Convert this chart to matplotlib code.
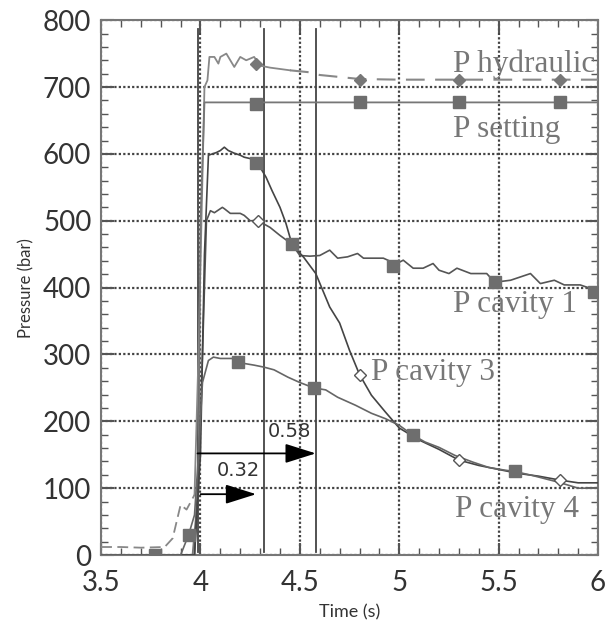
import numpy as np
import matplotlib.pyplot as plt
from matplotlib.ticker import MultipleLocator

# ---- data (time in s, pressure in bar) ----
hyd_t = [3.5, 3.6, 3.7, 3.82, 3.86, 3.9, 3.93, 3.97, 3.99, 4.02, 4.035, 4.045, 4.07, 4.09, 4.1,
         4.13, 4.17, 4.2, 4.23, 4.27, 4.3, 4.35, 4.4, 4.45, 4.55, 4.6, 4.7, 4.8, 5.0, 5.5, 6.0]
hyd_p = [12, 12, 11, 12, 25, 75, 68, 90, 300, 700, 710, 745, 745, 735, 745,
         750, 730, 745, 740, 745, 732, 729, 727, 725, 722, 718, 715, 712, 711, 711, 711]
hyd_mt = [4.28, 4.8, 5.3, 5.81]
hyd_mp = [735, 711, 711, 711]

set_t = [3.5, 3.96, 3.99, 4.0, 4.02, 6.0]
set_p = [0, 0, 100, 500, 677, 677]
set_mt = [3.77, 4.28, 4.8, 5.3, 5.81]
set_mp = [0, 675, 677, 677, 677]

# peak curve that drops steeply ("P cavity 3")
c3_t = [3.5, 3.97, 4.0, 4.02, 4.04, 4.06, 4.08, 4.1, 4.12, 4.14, 4.17, 4.2, 4.22, 4.25, 4.3,
        4.33, 4.36, 4.4, 4.43, 4.46, 4.52, 4.58, 4.65, 4.7, 4.75, 4.8, 4.86, 4.93, 5.0,
        5.1, 5.2, 5.3, 5.4, 5.5, 5.6, 5.7, 5.81, 5.9, 6.0]
c3_p = [0, 0, 150, 450, 598, 600, 602, 605, 610, 605, 601, 598, 595, 593, 580,
        565, 545, 520, 496, 465, 445, 421, 371, 347, 306, 270, 239, 214, 190,
        172, 158, 142, 134, 128, 122, 118, 112, 108, 108]
c3_mt = [4.29, 4.8, 5.3, 5.81]
c3_mp = [500, 270, 142, 112]

# plateau curve ending near 390 ("P cavity 1")
c1_t = [3.5, 3.97, 4.0, 4.03, 4.05, 4.07, 4.11, 4.12, 4.15, 4.2, 4.22, 4.25, 4.29, 4.35, 4.4,
        4.46, 4.5, 4.55, 4.6, 4.65, 4.69, 4.74, 4.79, 4.82, 4.87, 4.92, 4.95, 4.97, 5.02, 5.07,
        5.12, 5.17, 5.2, 5.25, 5.29, 5.36, 5.44, 5.48, 5.56, 5.61, 5.66, 5.71, 5.78, 5.83,
        5.91, 5.95, 5.98, 6.0]
c1_p = [0, 0, 200, 500, 515, 512, 520, 518, 511, 511, 508, 500, 500, 490, 478,
        465, 448, 447, 448, 456, 444, 446, 451, 444, 444, 444, 440, 433, 441, 429,
        429, 436, 426, 421, 429, 421, 421, 408, 411, 416, 421, 406, 411, 404,
        404, 400, 393, 390]
c1_mt = [4.46, 4.97, 5.48, 5.98]
c1_mp = [465, 433, 408, 393]

# lowest curve ("P cavity 4")
c4_t = [3.5, 3.9, 3.94, 3.97, 3.99, 4.01, 4.04, 4.065, 4.1, 4.165, 4.19, 4.27, 4.32, 4.37,
        4.44, 4.5, 4.57, 4.63, 4.69, 4.78, 4.86, 4.93, 5.0, 5.07, 5.13, 5.2, 5.28, 5.37,
        5.45, 5.53, 5.58, 5.67, 5.8, 5.9, 6.0]
c4_p = [0, 0, 30, 60, 150, 258, 291, 296, 294, 294, 288, 284, 281, 277,
        266, 258, 250, 247, 236, 224, 212, 204, 194, 179, 169, 161, 149, 139,
        131, 127, 125, 119, 109, 100, 100]
c4_mt = [3.94, 4.19, 4.57, 5.07, 5.58]
c4_mp = [30, 288, 250, 179, 125]

vlines = [3.985, 4.32, 4.58]
arrows = [(3.985, 4.58, 152, "0.58", 4.45, 176), (4.0, 4.28, 91, "0.32", 4.19, 118)]

labels = [("P hydraulic", 5.27, 722), ("P setting", 5.27, 625), ("P cavity 1", 5.27, 363),
          ("P cavity 3", 4.86, 262), ("P cavity 4", 5.28, 57)]

# ---- figure ----
fig = plt.figure(figsize=(6.09, 6.3), dpi=100)
ax = fig.add_axes([0.166, 0.119, 0.816, 0.849])

ax.set_xlim(3.5, 6.0)
ax.set_ylim(0, 800)

ax.grid(True, which='major', color='#444444', linestyle=(0, (1, 1)), lw=1.6)

for v in vlines:
    ax.plot([v, v], [5, 787], color='#444444', lw=1.3, zorder=3)

# hydraulic: dashed at start and end, solid in the middle
ax.plot(hyd_t[:8], hyd_p[:8], color='#888888', lw=1.3, ls=(0, (6, 3)), zorder=4)
ax.plot(hyd_t[7:24], hyd_p[7:24], color='#888888', lw=1.3, zorder=4)
ax.plot(hyd_t[23:], hyd_p[23:], color='#888888', lw=1.5, ls=(0, (9, 5)), zorder=4)
ax.plot(hyd_mt, hyd_mp, ls='none', marker='D', ms=6, color='#777777', zorder=5)

ax.plot(set_t, set_p, color='#777777', lw=1.3, zorder=4)
ax.plot(set_mt, set_mp, ls='none', marker='s', ms=9, color='#6e6e6e', zorder=5)

ax.plot(c1_t, c1_p, color='#555555', lw=1.2, zorder=4)
ax.plot(c1_mt, c1_mp, ls='none', marker='s', ms=9, color='#6e6e6e', zorder=5)

ax.plot(c3_t, c3_p, color='#444444', lw=1.2, zorder=4)
ax.plot(c3_mt, c3_mp, ls='none', marker='D', ms=6, mfc='white', mec='#555555', mew=1, zorder=5)
ax.plot([4.28], [586], ls='none', marker='s', ms=9, color='#6e6e6e', zorder=5)

ax.plot(c4_t, c4_p, color='#666666', lw=1.2, zorder=4)
ax.plot(c4_mt, c4_mp, ls='none', marker='s', ms=9, color='#6e6e6e', zorder=5)

for x0, x1, y, txt, tx, ty in arrows:
    ax.annotate('', xy=(x1, y), xytext=(x0, y),
                arrowprops=dict(arrowstyle='-|>,head_length=1.9,head_width=0.6',
                                color='black', lw=1.3, shrinkA=0, shrinkB=0), zorder=6)
    ax.text(tx, ty, txt, fontsize=14, family=['Liberation Sans Narrow', 'DejaVu Sans'],
            color='#333333', ha='center', va='baseline')

for txt, tx, ty in labels:
    ax.text(tx, ty, txt, fontsize=22.5, family='Liberation Serif', color='#777777',
            ha='left', va='baseline', zorder=7, clip_on=False)

ax.xaxis.set_major_locator(MultipleLocator(0.5))
ax.xaxis.set_minor_locator(MultipleLocator(0.1))
ax.yaxis.set_major_locator(MultipleLocator(100))
ax.yaxis.set_minor_locator(MultipleLocator(20))
ax.set_xticks([3.5, 4, 4.5, 5, 5.5, 6])
ax.set_xticklabels(['3.5', '4', '4.5', '5', '5.5', '6'])
ax.tick_params(which='both', direction='in', top=True, right=True, color='#555555')
ax.tick_params(which='major', length=9, width=1.5, labelsize=20, labelcolor='#333333')
ax.tick_params(axis='x', which='major', pad=11)
ax.tick_params(axis='y', which='major', pad=7)
ax.tick_params(which='minor', length=5, width=1)
for lab in ax.get_xticklabels() + ax.get_yticklabels():
    lab.set_family('Lato')

for s in ax.spines.values():
    s.set_color('#777777')
    s.set_linewidth(1.5)

ax.set_xlabel('Time (s)', fontsize=13, family='Lato', color='#333333', labelpad=6)
ax.set_ylabel('Pressure (bar)', fontsize=12, family='Lato', color='#333333', labelpad=6)

fig.savefig('out.png', dpi=100)
